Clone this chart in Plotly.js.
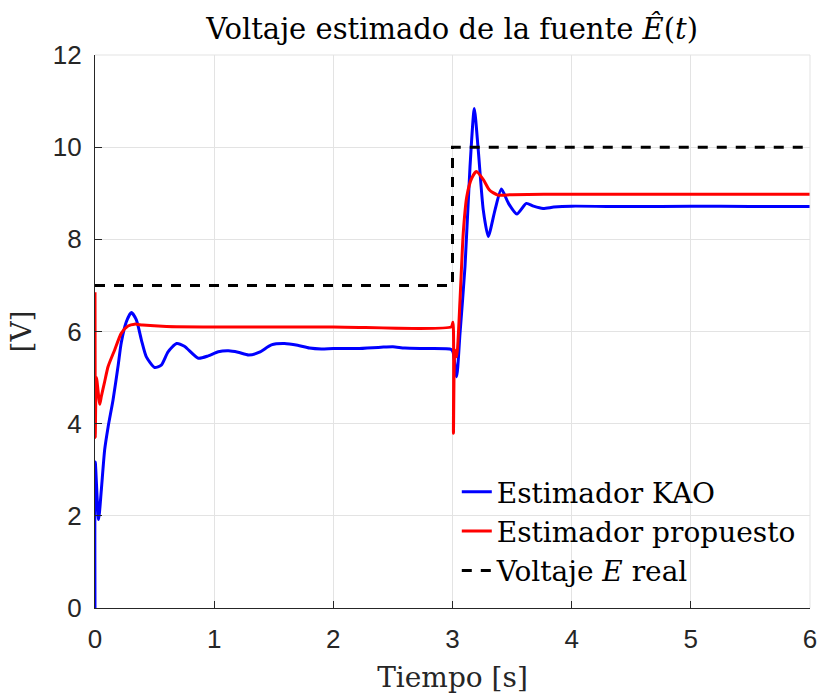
<!DOCTYPE html>
<html>
<head>
<meta charset="utf-8">
<script src="https://cdn.plot.ly/plotly-3.0.1.min.js"></script>
<style>html,body{margin:0;padding:0;background:#fff;}#chart{width:822px;height:698px;}</style>
</head>
<body>
<div id="chart"></div>
<script>
// Estimador KAO (blue)
const kaoT = [0, 0.002, 0.03, 0.053, 0.081, 0.11, 0.151, 0.193, 0.22, 0.263, 0.305, 0.347, 0.389, 0.431, 0.50, 0.556, 0.613, 0.685, 0.75, 0.867, 0.95, 1.035, 1.12, 1.2, 1.29, 1.38, 1.48, 1.59, 1.7, 1.8, 1.9, 2.0, 2.2, 2.4, 2.5, 2.6, 2.8, 2.99, 3.005, 3.035, 3.063, 3.105, 3.147, 3.183, 3.216, 3.258, 3.30, 3.357, 3.41, 3.47, 3.54, 3.62, 3.68, 3.76, 3.85, 4.0, 4.5, 5.0, 5.5, 6.0];
const kaoV = [0, 3.17, 1.92, 2.56, 3.43, 3.93, 4.51, 5.24, 5.75, 6.21, 6.41, 6.25, 5.82, 5.45, 5.22, 5.27, 5.56, 5.74, 5.68, 5.42, 5.47, 5.56, 5.58, 5.55, 5.49, 5.55, 5.71, 5.74, 5.70, 5.64, 5.62, 5.63, 5.63, 5.66, 5.67, 5.64, 5.63, 5.61, 5.55, 5.02, 5.96, 7.41, 9.58, 10.84, 9.94, 8.64, 8.06, 8.64, 9.09, 8.78, 8.55, 8.78, 8.72, 8.67, 8.70, 8.72, 8.71, 8.72, 8.71, 8.71];

// Estimador propuesto (red)
const propT = [0, 0.002, 0.012, 0.04, 0.053, 0.081, 0.11, 0.165, 0.22, 0.277, 0.333, 0.4, 0.6, 1.0, 2.0, 2.99, 3.004, 3.008, 3.02, 3.035, 3.063, 3.09, 3.12, 3.16, 3.2, 3.26, 3.31, 3.38, 3.5, 4.0, 5.0, 6.0];
const propV = [6.85, 3.70, 5.00, 4.42, 4.59, 4.91, 5.24, 5.60, 5.96, 6.12, 6.16, 6.14, 6.11, 6.10, 6.10, 6.10, 6.20, 3.79, 5.60, 5.45, 6.68, 8.13, 8.93, 9.32, 9.47, 9.29, 9.07, 8.96, 8.97, 8.98, 8.98, 8.98];

// Voltaje E real (black dashed)
const realT = [0, 3, 3, 6];
const realV = [7, 7, 10, 10];

const names = ['Estimador KAO', 'Estimador propuesto', 'Voltaje <i>E</i> real'];
const xTicks = [0, 1, 2, 3, 4, 5, 6];
const yTicks = [0, 2, 4, 6, 8, 10, 12];

const serif = 'DejaVu Serif, Liberation Serif, serif';
const sans = 'Liberation Sans, Arial, Helvetica, sans-serif';

const traces = [
  {x: kaoT, y: kaoV, name: names[0], mode: 'lines', line: {color: '#0000ff', width: 3, shape: 'spline', smoothing: 0.6}},
  {x: propT, y: propV, name: names[1], mode: 'lines', line: {color: '#ff0000', width: 3, shape: 'spline', smoothing: 0.6}},
  {x: realT, y: realV, name: names[2], mode: 'lines', line: {color: '#000000', width: 3, dash: '10px,9px'}}
];

const layout = {
  width: 822, height: 698,
  margin: {l: 95, r: 12, t: 55, b: 90},
  paper_bgcolor: '#ffffff', plot_bgcolor: '#ffffff',
  title: {text: 'Voltaje estimado de la fuente <i>Ê</i>(<i>t</i>)', font: {family: serif, size: 29, color: '#000'}, x: 0.55, xanchor: 'center', y: 0.958, yanchor: 'middle'},
  xaxis: {
    range: [0, 6], tickvals: xTicks, ticktext: xTicks.map(String),
    showgrid: true, gridcolor: '#e3e3e3', gridwidth: 1,
    showline: true, linecolor: '#262626', linewidth: 1.2,
    ticks: 'inside', ticklen: 7, tickcolor: '#262626',
    tickfont: {family: sans, size: 26, color: '#262626'},
    ticklabelstandoff: 8,
    zeroline: false,
    title: {text: 'Tiempo [s]', font: {family: serif, size: 28, color: '#262626'}, standoff: 14}
  },
  yaxis: {
    range: [0, 12], tickvals: yTicks, ticktext: yTicks.map(String),
    showgrid: true, gridcolor: '#e3e3e3', gridwidth: 1,
    showline: true, linecolor: '#262626', linewidth: 1.2,
    ticks: 'inside', ticklen: 7, tickcolor: '#262626',
    tickfont: {family: sans, size: 26, color: '#262626'},
    ticklabelstandoff: 7,
    zeroline: false,
    title: {text: '[V]', font: {family: serif, size: 28, color: '#262626'}, standoff: 12}
  },
  legend: {
    x: 0.506, y: 0.255, xanchor: 'left', yanchor: 'top',
    bgcolor: 'rgba(0,0,0,0)', borderwidth: 0,
    font: {family: serif, size: 28, color: '#000'},
    tracegroupgap: 0
  },
  shapes: [
    {type: 'line', xref: 'paper', yref: 'paper', x0: 0, x1: 1, y0: 1, y1: 1, line: {color: '#e3e3e3', width: 1}},
    {type: 'line', xref: 'paper', yref: 'paper', x0: 1, x1: 1, y0: 0, y1: 1, line: {color: '#e3e3e3', width: 1}}
  ],
  showlegend: true
};

Plotly.newPlot('chart', traces, layout, {displayModeBar: false, staticPlot: true});
</script>
</body>
</html>
